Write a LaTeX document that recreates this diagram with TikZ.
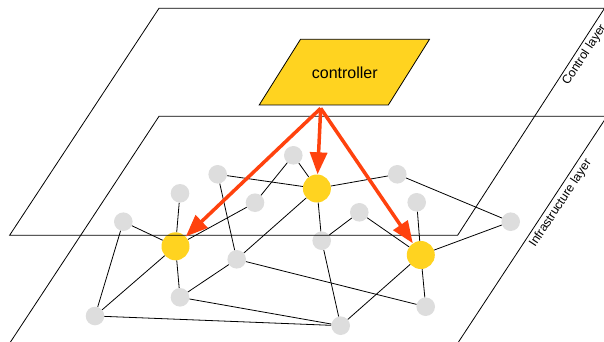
\documentclass[tikz,border=0pt]{standalone}
\usepackage{fontspec}
\setmainfont{Liberation Sans}
\usetikzlibrary{arrows.meta}
\definecolor{ctrl}{HTML}{FFD320}
\definecolor{arrc}{HTML}{FF420E}
\definecolor{gnode}{HTML}{DDDDDD}
\begin{document}
\begin{tikzpicture}[x=1pt,y=-1pt,
  gray/.style={circle, fill=gnode, minimum size=18.6pt, inner sep=0pt},
  hub/.style={circle, fill=ctrl, minimum size=28pt, inner sep=0pt},
  link/.style={draw=black, line width=0.8pt},
  plane/.style={draw=black, line width=0.8pt},
  ctlarrow/.style={draw=arrc, line width=3.5pt, line join=miter, -{Triangle[length=22pt,width=17pt]}},
  lbl/.style={font=\fontsize{12.3}{14}\selectfont, inner sep=0pt, rotate=56.6, anchor=base west}]
\useasboundingbox (0,0) rectangle (604,342);
\clip (0,0) rectangle (604,342);
% network nodes
\node[gray] (A) at (217.7,174.3) {};
\node[gray] (B) at (180,193.3) {};
\node[gray] (C) at (123.3,221.7) {};
\node[gray] (D) at (255,202.7) {};
\node[gray] (E) at (293.3,155.3) {};
\node[gray] (F) at (236.7,259.3) {};
\node[gray] (G) at (180,297.3) {};
\node[gray] (H) at (95,316) {};
\node[gray] (I) at (397.3,174.3) {};
\node[gray] (J) at (416.7,202.3) {};
\node[gray] (K) at (359.3,212.3) {};
\node[gray] (L) at (321.7,240.7) {};
\node[gray] (M) at (510.7,221.7) {};
\node[gray] (N) at (425.7,306.7) {};
\node[gray] (O) at (340.7,325.7) {};
\node[hub] (Y1) at (175.5,246.3) {};
\node[hub] (Y2) at (316.9,188.5) {};
\node[hub] (Y3) at (420.8,255) {};
% links
\foreach \a/\b in {C/Y1, B/Y1, Y1/D, E/D, A/Y2, E/Y2, A/F, Y2/F, Y2/I, I/M, M/Y3,
  Y2/L, L/K, K/Y3, J/Y3, Y3/N, Y3/O, L/O, F/N, F/G, G/O, H/O, H/Y1, H/C, Y1/G}
  \draw[link] (\a) -- (\b);
% planes
\draw[plane] (159,8.3) -- (604.5,8.3) -- (457.6,235.3) -- (9.6,235.3) -- cycle;
\draw[plane] (159,116.3) -- (607,116.3) -- (456.5,345) -- (8.5,345) -- cycle;
\node[lbl] (ctllbl) at (568,86) {Control layer};
\node[lbl] (infralbl) at (535,248) {Infrastructure layer};
% controller
\draw[fill=ctrl, draw=black, line width=0.8pt] (300.5,39.3) -- (429.5,39.3) -- (388.3,105) -- (259.2,105) -- cycle;
\node[font=\fontsize{16}{19}\selectfont, inner sep=0pt] (controller) at (344.8,72.7) {controller};
\coordinate (src) at (320.7,108.3);
% arrows
\draw[ctlarrow] (src) -- (Y1);
\draw[ctlarrow] (src) -- (Y2);
\draw[ctlarrow] (src) -- (Y3);
\end{tikzpicture}
\end{document}
